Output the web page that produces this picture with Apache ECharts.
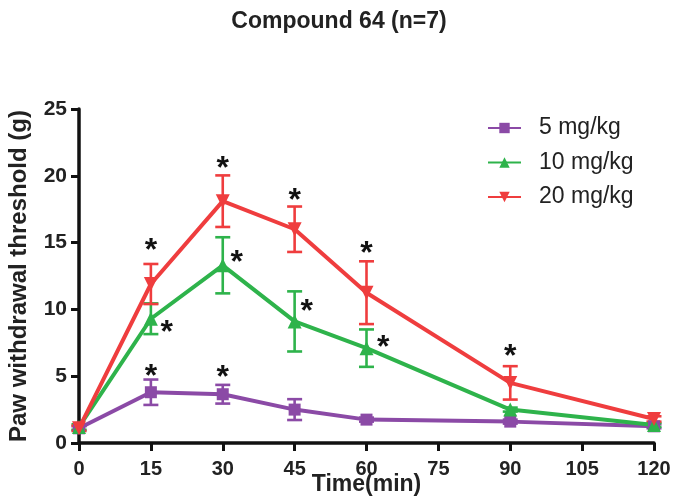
<!DOCTYPE html>
<html>
<head>
<meta charset="utf-8">
<script src="https://cdn.jsdelivr.net/npm/echarts@6/dist/echarts.min.js"></script>
<style>
html,body{margin:0;padding:0;background:#fff;}
#chart{width:678px;height:504px;}
</style>
</head>
<body>
<div id="chart"></div>
<script>
// ---- data ----
var times = [0, 15, 30, 45, 60, 90, 120];
var seriesNames = ['5 mg/kg', '10 mg/kg', '20 mg/kg'];
var mean5  = [1.1, 3.8, 3.65, 2.5, 1.75, 1.6, 1.25];
var sem5   = [0.15, 0.95, 0.7, 0.78, 0.15, 0.15, 0.15];
var mean10 = [1.2, 9.3, 13.3, 9.1, 7.1, 2.5, 1.35];
var sem10  = [0.2, 1.15, 2.1, 2.25, 1.4, 0.15, 0.15];
var mean20 = [1.1, 11.9, 18.1, 16.0, 11.25, 4.5, 1.8];
var sem20  = [0.2, 1.5, 1.93, 1.7, 2.35, 1.25, 0.2];
// significance asterisks: [time, y] in data units
var stars5  = [[15, 5.6], [30, 5.5]];
var stars10 = [[18.3, 8.9], [32.9, 14.1], [47.5, 10.5], [63.5, 7.8]];
var stars20 = [[15, 15.0], [30, 21.2], [45, 18.8], [60, 14.8], [90, 7.1]];
var yTicks = [0, 5, 10, 15, 20, 25];
var xTicks = [0, 15, 30, 45, 60, 75, 90, 105, 120];

var colors = ['#8b4aa6', '#2eb34b', '#ef3d3e'];
var symbols = ['rect', 'triangle', 'triangle'];
var rotates = [0, 0, 180];
var means = [mean5, mean10, mean20];
var sems = [sem5, sem10, sem20];
var stars = [stars5, stars10, stars20];
var FONT = 'Liberation Sans, Arial, sans-serif';

function pairs(m) { return times.map(function (t, i) { return [t, m[i]]; }); }
function errData(m, s) { return times.map(function (t, i) { return [t, m[i] - s[i], m[i] + s[i]]; }); }

var series = [];
for (var k = 0; k < 3; k++) {
  (function (k) {
    series.push({
      type: 'custom',
      name: seriesNames[k] + ' err',
      z: 3,
      data: errData(means[k], sems[k]),
      renderItem: function (params, api) {
        var x = api.value(0);
        var lo = api.coord([x, api.value(1)]);
        var hi = api.coord([x, api.value(2)]);
        var hw = 7.5;
        var st = { stroke: colors[k], lineWidth: 2.6, fill: null };
        return {
          type: 'group',
          children: [
            { type: 'line', shape: { x1: lo[0], y1: lo[1], x2: hi[0], y2: hi[1] }, style: st },
            { type: 'line', shape: { x1: lo[0] - hw, y1: lo[1], x2: lo[0] + hw, y2: lo[1] }, style: st },
            { type: 'line', shape: { x1: hi[0] - hw, y1: hi[1], x2: hi[0] + hw, y2: hi[1] }, style: st }
          ]
        };
      },
      silent: true
    });
  })(k);
}
for (var k2 = 0; k2 < 3; k2++) {
  series.push({
    type: 'line',
    name: seriesNames[k2],
    z: 4,
    data: pairs(means[k2]),
    symbol: symbols[k2],
    symbolRotate: rotates[k2],
    symbolSize: k2 === 0 ? 12 : 14,
    showAllSymbol: true,
    color: colors[k2],
    lineStyle: { width: 4, color: colors[k2] },
    itemStyle: { color: colors[k2] },
    animation: false
  });
}
for (var k3 = 0; k3 < 3; k3++) {
  series.push({
    type: 'custom',
    name: 'stars' + k3,
    data: stars[k3],
    z: 5,
    silent: true,
    renderItem: function (params, api) {
      var p = api.coord([api.value(0), api.value(1)]);
      return {
        type: 'text',
        style: {
          text: '*',
          x: p[0],
          y: p[1] + 9,
          align: 'center',
          verticalAlign: 'middle',
          fill: '#111',
          font: 'bold 32px ' + FONT
        }
      };
    }
  });
}

var chart = echarts.init(document.getElementById('chart'), null, { renderer: 'canvas' });
chart.setOption({
  animation: false,
  backgroundColor: '#fff',
  textStyle: { fontFamily: FONT },
  title: {
    text: 'Compound 64 (n=7)',
    left: 'center',
    top: 5,
    textStyle: { fontSize: 23, fontWeight: 'bold', color: '#222', fontFamily: FONT }
  },
  legend: {
    data: seriesNames,
    orient: 'vertical',
    left: 487,
    top: 116,
    padding: 0,
    itemWidth: 33,
    itemHeight: 13,
    itemGap: 10.5,
    textStyle: { fontSize: 23, color: '#222', lineHeight: 24, padding: [0, 0, 0, 13], fontFamily: FONT }
  },
  grid: { left: 79, right: 24, top: 109, bottom: 61, containLabel: false, outerBoundsMode: 'none' },
  xAxis: {
    type: 'value',
    min: xTicks[0],
    max: xTicks[xTicks.length - 1],
    interval: xTicks[1] - xTicks[0],
    name: 'Time(min)',
    nameLocation: 'middle',
    nameGap: 30,
    nameMoveOverlap: false,
    nameTextStyle: { fontSize: 23, fontWeight: 'bold', color: '#222' },
    axisLine: { lineStyle: { color: '#111', width: 3.5 } },
    axisTick: { show: true, length: 8, lineStyle: { color: '#111', width: 3 } },
    axisLabel: { fontSize: 20, fontWeight: 'bold', color: '#222', margin: 16 },
    splitLine: { show: false }
  },
  yAxis: {
    type: 'value',
    min: yTicks[0],
    max: yTicks[yTicks.length - 1],
    interval: yTicks[1] - yTicks[0],
    name: 'Paw withdrawal threshold (g)',
    nameLocation: 'middle',
    nameGap: 48,
    nameMoveOverlap: false,
    nameTextStyle: { fontSize: 24, fontWeight: 'bold', color: '#222' },
    axisLine: { show: true, lineStyle: { color: '#111', width: 3.5 } },
    axisTick: { show: true, length: 8, lineStyle: { color: '#111', width: 3 } },
    axisLabel: { fontSize: 21, fontWeight: 'bold', color: '#222', margin: 12 },
    splitLine: { show: false }
  },
  series: series
});
</script>
</body>
</html>
